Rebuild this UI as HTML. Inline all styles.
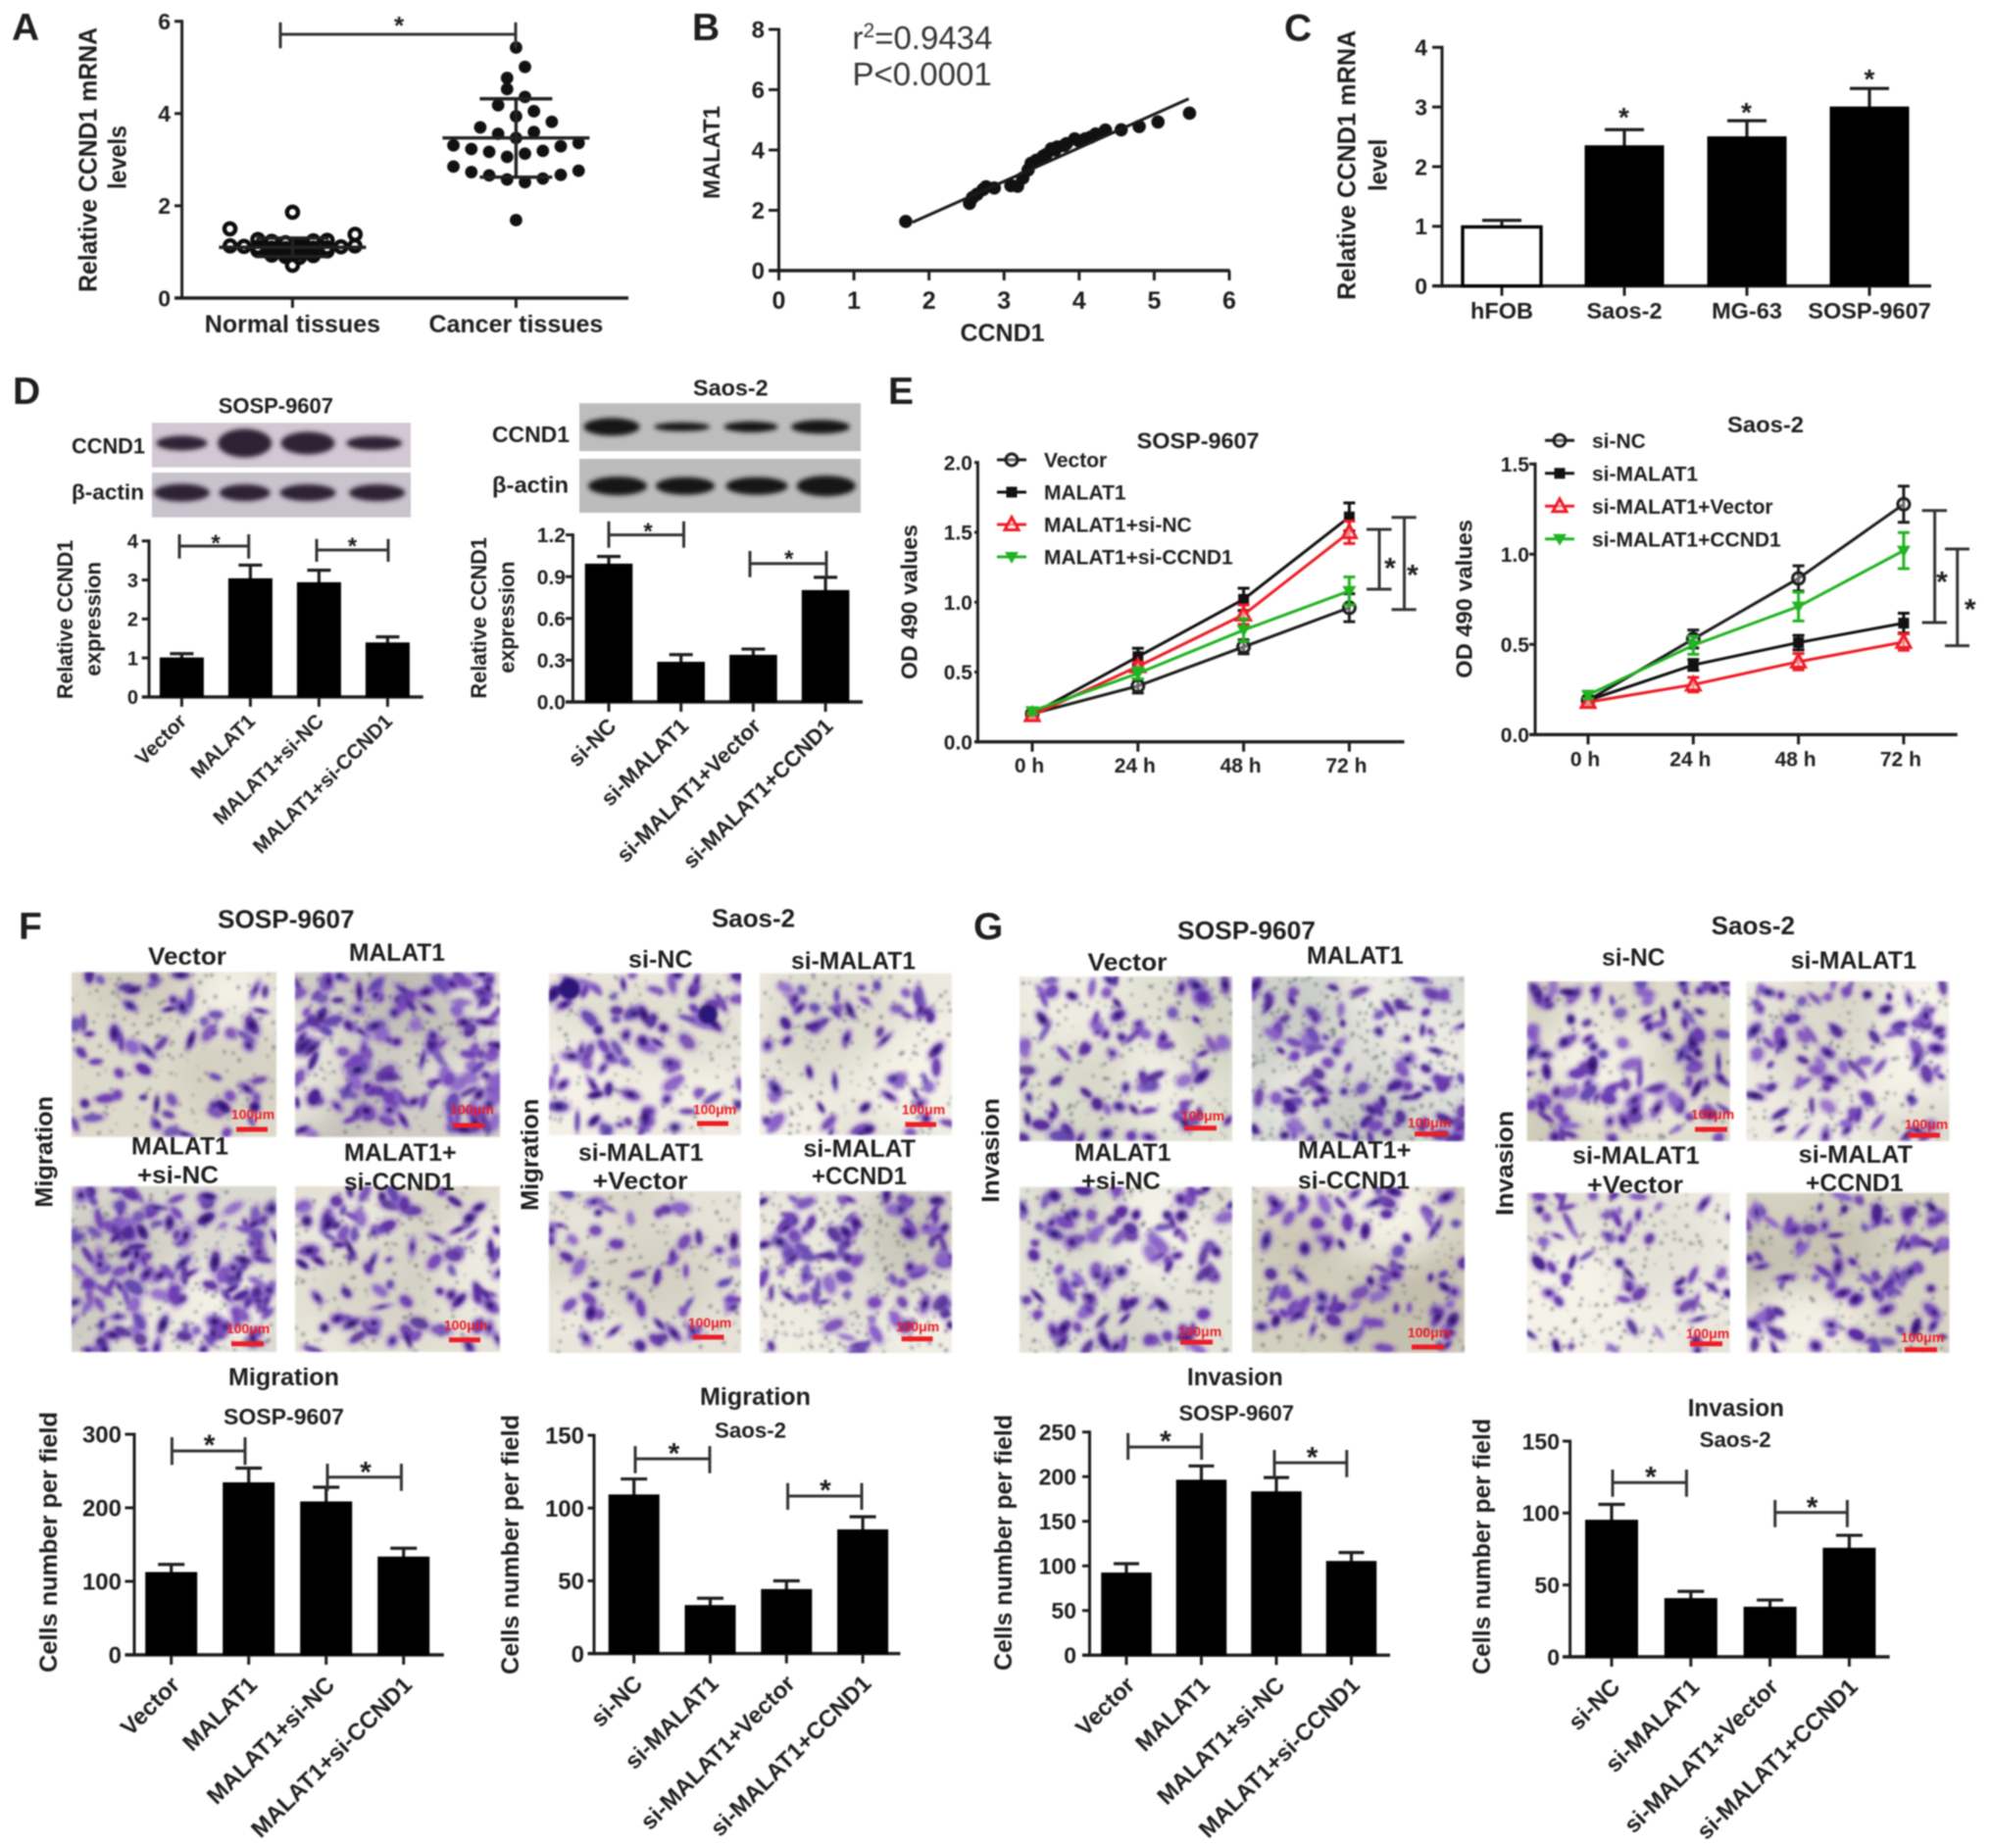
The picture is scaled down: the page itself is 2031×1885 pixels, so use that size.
<!DOCTYPE html>
<html lang="en">
<head>
<meta charset="utf-8">
<title>CCND1 and MALAT1 multi-panel figure</title>
<style>
html,body{margin:0;padding:0;background:#fff}
svg{display:block;filter:blur(.7px)}
text{font-family:"Liberation Sans",Arial,sans-serif;fill:#1e1e1e;font-weight:bold}
</style>
</head>
<body>
<svg id="figure" xmlns="http://www.w3.org/2000/svg" width="2031" height="1885" viewBox="0 0 2031 1885">
  <defs>
    <filter id="blotBlur" x="-30%" y="-80%" width="160%" height="260%"><feGaussianBlur stdDeviation="2.4"/></filter>
    <filter id="cellBlur" x="-5%" y="-5%" width="110%" height="110%"><feGaussianBlur stdDeviation="1.2"/></filter>
    <filter id="toneBlur" x="-20%" y="-20%" width="140%" height="140%"><feGaussianBlur stdDeviation="16"/></filter>
  </defs>
  <rect x="0" y="0" width="2031" height="1885" fill="#ffffff"/>
  <g id="panel-a"></g>
  <g id="panel-b">
    <text x="869.5" y="50" font-size="33" style="font-weight:normal;fill:#333">r<tspan dy="-12" font-size="21">2</tspan><tspan dy="12">=0.9434</tspan></text>
    <text x="869.5" y="87" font-size="33" style="font-weight:normal;fill:#333">P&lt;0.0001</text>
  </g>
  <g id="panel-c"></g>
  <g id="panel-d"></g>
  <g id="panel-e"></g>
  <g id="panel-f"></g>
  <g id="panel-g"></g>
</svg>
<script>
/* ---------- chart data ---------- */
const panelACategories = ['Normal tissues', 'Cancer tissues'];
const panelATicks = ['0', '2', '4', '6'];
const normalValues = [1.86, 1.16, 1.20, 1.24, 1.23, 1.25, 1.27, 1.38, 1.50, 1.07, 1.07, 1.08, 1.08, 1.09, 1.10, 1.11, 1.12, 1.13, 1.13, 0.98, 0.99, 1.0, 1.01, 1.02, 1.03, 0.88, 0.90, 0.92, 0.93, 0.71];
const cancerValues = [5.43, 5.01, 4.77, 4.36, 4.53, 3.94, 4.05, 4.18, 3.47, 3.60, 3.56, 3.82, 3.70, 3.13, 3.06, 3.19, 3.17, 3.29, 3.23, 3.36, 3.31, 2.51, 2.57, 2.59, 2.66, 2.67, 2.73, 2.76, 2.85, 1.69];
const normalRowEdges = [0, 0.8, 0.95, 1.05, 1.14, 1.62, 2.2];
const cancerRowEdges = [0, 2.48, 2.93, 3.38, 3.83, 4.28, 4.73, 5.18, 5.63];
const normalSummary = [1.1, 0.2];
const cancerSummary = [3.47, 0.85];

const panelBXTicks = ['0', '1', '2', '3', '4', '5', '6'];
const panelBYTicks = ['0', '2', '4', '6', '8'];
const ccnd1Values = [1.69, 2.54, 2.58, 2.64, 2.72, 2.76, 2.87, 3.09, 3.18, 3.25, 3.32, 3.36, 3.43, 3.52, 3.56, 3.63, 3.68, 3.71, 3.8, 3.83, 3.94, 4.0, 4.08, 4.15, 4.22, 4.35, 4.56, 4.80, 5.05, 5.47];
const malat1Values = [1.63, 2.23, 2.42, 2.53, 2.69, 2.78, 2.74, 2.82, 2.80, 3.07, 3.34, 3.56, 3.66, 3.79, 3.85, 4.04, 4.0, 4.10, 4.15, 4.21, 4.37, 4.3, 4.37, 4.42, 4.53, 4.66, 4.67, 4.78, 4.93, 5.22];
const fitX = [1.78, 5.46];
const fitY = [1.60, 5.70];

const panelCCategories = ['hFOB', 'Saos-2', 'MG-63', 'SOSP-9607'];
const panelCTicks = ['0', '1', '2', '3', '4'];
const panelCValues = [0.99, 2.35, 2.5, 3.0];
const panelCErrors = [0.11, 0.27, 0.27, 0.31];

const sospCategories = ['Vector', 'MALAT1', 'MALAT1+si-NC', 'MALAT1+si-CCND1'];
const saosCategories = ['si-NC', 'si-MALAT1', 'si-MALAT1+Vector', 'si-MALAT1+CCND1'];

const panelD1Ticks = ['0', '1', '2', '3', '4'];
const panelD1Values = [1.0, 3.03, 2.93, 1.385];
const panelD1Errors = [0.11, 0.35, 0.32, 0.155];
const panelD2Ticks = ['0.0', '0.3', '0.6', '0.9', '1.2'];
const panelD2Values = [0.99, 0.285, 0.335, 0.8];
const panelD2Errors = [0.055, 0.055, 0.045, 0.095];

const timeLabels = ['0 h', '24 h', '48 h', '72 h'];
const panelE1Ticks = ['0.0', '0.5', '1.0', '1.5', '2.0'];
const e1VectorMean = [0.2, 0.40, 0.68, 0.96];
const e1VectorSd = [0.02, 0.05, 0.05, 0.1];
const e1Malat1Mean = [0.2, 0.61, 1.02, 1.61];
const e1Malat1Sd = [0.02, 0.06, 0.08, 0.1];
const e1SiNcMean = [0.19, 0.54, 0.91, 1.50];
const e1SiNcSd = [0.02, 0.03, 0.07, 0.08];
const e1SiCcnd1Mean = [0.22, 0.49, 0.8, 1.08];
const e1SiCcnd1Sd = [0.02, 0.04, 0.08, 0.1];
const e1SeriesNames = ['Vector', 'MALAT1', 'MALAT1+si-NC', 'MALAT1+si-CCND1'];

const panelE2Ticks = ['0.0', '0.5', '1.0', '1.5'];
const e2SiNcMean = [0.19, 0.53, 0.866, 1.277];
const e2SiNcSd = [0.02, 0.05, 0.07, 0.1];
const e2SiMalat1Mean = [0.19, 0.386, 0.51, 0.618];
const e2SiMalat1Sd = [0.02, 0.03, 0.04, 0.055];
const e2VectorMean = [0.18, 0.277, 0.404, 0.513];
const e2VectorSd = [0.02, 0.04, 0.045, 0.045];
const e2Ccnd1Mean = [0.22, 0.495, 0.71, 1.02];
const e2Ccnd1Sd = [0.02, 0.05, 0.08, 0.1];
const e2SeriesNames = ['si-NC', 'si-MALAT1', 'si-MALAT1+Vector', 'si-MALAT1+CCND1'];

const panelF1Ticks = ['0', '100', '200', '300'];
const panelF1Values = [112, 234, 208, 133];
const panelF1Errors = [11, 20, 20, 12];
const panelF2Ticks = ['0', '50', '100', '150'];
const panelF2Values = [109, 33, 44, 85];
const panelF2Errors = [11, 5, 6, 9];
const panelG1Ticks = ['0', '50', '100', '150', '200', '250'];
const panelG1Values = [92, 196, 183, 105];
const panelG1Errors = [10.5, 16, 16, 10];
const panelG2Ticks = ['0', '50', '100', '150'];
const panelG2Values = [95, 40.5, 34.5, 75.5];
const panelG2Errors = [11, 5, 5, 9];

/* ---------- helpers ---------- */
const NS = 'http://www.w3.org/2000/svg';
const INK = '#1d1d1d';
function make(tag, parent, attrs) {
  const n = document.createElementNS(NS, tag);
  for (const k in attrs) n.setAttribute(k, attrs[k]);
  parent.appendChild(n);
  return n;
}
function linear(d0, d1, r0, r1) { return v => r0 + (v - d0) * (r1 - r0) / (d1 - d0); }
function line(g, x1, y1, x2, y2, w, c, name) {
  const l = make('line', g, {x1, y1, x2, y2, stroke: c || INK, 'stroke-width': w || 3});
  
  
  return l;
}
function word(g, str, x, y, size, anchor, name) {
  const t = make('text', g, {x, y, 'font-size': size, 'text-anchor': anchor || 'start'});
  t.textContent = str;
  
  
  return t;
}
function label(g, str, x0, x1, base, size, name) {
  const t = make('text', g, {x: x0, y: base, 'font-size': size, textLength: x1 - x0, lengthAdjust: 'spacingAndGlyphs'});
  t.textContent = str;
  
  
  return t;
}
function vlabel(g, str, cx, y0, y1, size, name) {
  const t = make('text', g, {x: 0, y: 0, 'font-size': size, textLength: y1 - y0, lengthAdjust: 'spacingAndGlyphs',
    transform: 'translate(' + (cx + size * 0.36) + ',' + y1 + ') rotate(-90)'});
  t.textContent = str;
  
  
  return t;
}
function star(g, x, y, size) {
  const t = make('text', g, {x, y: y + size * 0.58, 'font-size': size, 'text-anchor': 'middle'});
  t.textContent = '*';
  
  
  return t;
}
function bracket(g, xa, xb, y, top, bottom, sx, sy, size) {
  const p = make('path', g, {d: 'M' + xa + ' ' + top + 'V' + bottom + 'M' + xa + ' ' + y + 'H' + xb + 'M' + xb + ' ' + top + 'V' + bottom, fill: 'none', stroke: '#333', 'stroke-width': 3});
  
  
  star(g, sx, sy, size || 28);
}
function vBracket(g, x, capL, capR, top, bottom, sx, sy) {
  const p = make('path', g, {d: 'M' + capL + ' ' + top + 'H' + capR + 'M' + x + ' ' + top + 'V' + bottom + 'M' + capL + ' ' + bottom + 'H' + capR, fill: 'none', stroke: '#333', 'stroke-width': 3});
  
  
  star(g, sx, sy, 30);
}
function section(parent, name) {
  const g = make('g', parent, {});
  
  
  return g;
}
/* y axis + baseline + tick marks */
function axes(g, o, ticks, catXs) {
  const dMax = parseFloat(ticks[ticks.length - 1]);
  const y = linear(0, dMax, o.y0, o.yTop);
  line(g, o.x, o.yTop - 1.5, o.x, o.y0 + 1.5, 3, INK, 'y-axis-line');
  line(g, o.xStart, o.y0, o.xEnd, o.y0, 3.4, INK, 'x-axis-line');
  ticks.forEach(s => {
    const v = parseFloat(s);
    if (v !== 0) line(g, o.xStart, y(v), o.x, y(v), 3, INK, 'y-tick-mark');
    word(g, s, o.tickRight, y(v) + o.tickSize * 0.36, o.tickSize, 'end', 'y-tick-label');
  });
  catXs.forEach(cx => line(g, cx, o.y0, cx, o.y0 + 10, 3, INK, 'x-tick-mark'));
  return y;
}
function catPositions(o, n) { const a = []; for (let i = 0; i < n; i++) a.push(o.cat0 + i * o.catStep); return a; }
function barChart(parent, name, o, cats, vals, errs, ticks) {
  const g = section(parent, name);
  const xs = catPositions(o, cats.length);
  const y = axes(g, o, ticks, xs);
  vals.forEach((v, i) => {
    const top = y(v + errs[i]);
    const sd = make('path', g, {d: 'M' + (xs[i] - o.capW / 2) + ' ' + top + 'H' + (xs[i] + o.capW / 2) + 'M' + xs[i] + ' ' + top + 'V' + y(v), fill: 'none', stroke: INK, 'stroke-width': 3.2});
    
    
    const hollow = o.hollowFirst && i === 0;
    const bar = make('rect', g, {x: xs[i] - o.barW / 2, y: y(v), width: o.barW, height: o.y0 - y(v), fill: hollow ? '#fff' : '#000', stroke: '#000', 'stroke-width': hollow ? 3.4 : 1});
    
    
  });
  cats.forEach((c, i) => {
    if (o.rotSize) {
      const t = make('text', g, {x: 0, y: 0, 'font-size': o.rotSize, 'text-anchor': 'end',
        transform: 'translate(' + (xs[i] + o.rotDx) + ',' + (o.y0 + o.rotDy) + ') rotate(-45)'});
      t.textContent = c;
      
      
    } else {
      word(g, c, xs[i], o.catBase, o.catSize, 'middle', 'x-category-label');
    }
  });
  return g;
}
function marker(g, type, x, y, color) {
  let m;
  if (type === 'circle') m = make('circle', g, {cx: x, cy: y, r: 6, fill: '#fff', 'fill-opacity': 0.35, stroke: color, 'stroke-width': 3});
  if (type === 'square') m = make('rect', g, {x: x - 5.5, y: y - 5.5, width: 11, height: 11, fill: color});
  if (type === 'up') m = make('path', g, {d: 'M' + x + ' ' + (y - 7.5) + 'L' + (x + 7) + ' ' + (y + 5.5) + 'H' + (x - 7) + 'Z', fill: '#fff', 'fill-opacity': 0.5, stroke: color, 'stroke-width': 3});
  if (type === 'down') m = make('path', g, {d: 'M' + (x - 7) + ' ' + (y - 5) + 'H' + (x + 7) + 'L' + x + ' ' + (y + 7) + 'Z', fill: color});
  
  
}
const seriesStyle = [['circle', '#1c1c1c'], ['square', '#111'], ['up', '#ee1c25'], ['down', '#22b322']];
function lineChart(parent, name, o, labels, ticks, series, names) {
  const g = section(parent, name);
  const xs = catPositions(o, labels.length);
  const y = axes(g, o, ticks, xs);
  series.forEach((s, k) => {
    const sg = section(g, 'series-' + names[k].toLowerCase().replace(/[^a-z0-9]+/g, '-'));
    const color = seriesStyle[k][1];
    const pl = make('polyline', sg, {points: s[0].map((v, i) => xs[i] + ',' + y(v)).join(' '), fill: 'none', stroke: color, 'stroke-width': 3});
    
    
    s[0].forEach((v, i) => {
      const a = y(v + s[1][i]), b = y(v - s[1][i]);
      const eb = make('path', sg, {d: 'M' + (xs[i] - 6) + ' ' + a + 'H' + (xs[i] + 6) + 'M' + xs[i] + ' ' + a + 'V' + b + 'M' + (xs[i] - 6) + ' ' + b + 'H' + (xs[i] + 6), fill: 'none', stroke: color, 'stroke-width': 3});
      
      
      marker(sg, seriesStyle[k][0], xs[i], y(v), color);
    });
  });
  labels.forEach((t, i) => word(g, t, xs[i] - 3, o.catBase, o.catSize, 'middle', 'x-time-label'));
  const lg = section(g, 'legend');
  names.forEach((n, k) => {
    const ry = o.legY + k * o.legStep;
    const e = section(lg, 'legend-entry');
    line(e, o.legX - 15, ry, o.legX + 15, ry, 3, seriesStyle[k][1], 'legend-line');
    marker(e, seriesStyle[k][0], o.legX, ry, seriesStyle[k][1]);
    word(e, n, o.legX + 33, ry + 7.5, 21, 'start', 'legend-label');
  });
  return g;
}
/* Prism-style swarm: points in one row spread outward from the category centre, in array order */
function swarm(values, edges, step) {
  const rows = {};
  const out = [];
  values.forEach(v => {
    let b = 0;
    while (b < edges.length - 1 && v >= edges[b + 1]) b++;
    (rows[b] = rows[b] || []).push(v);
  });
  Object.values(rows).forEach(r => {
    r.forEach((v, i) => {
      let off;
      if (r.length % 2 === 1) off = i === 0 ? 0 : Math.ceil(i / 2) * (i % 2 ? 1 : -1);
      else off = (Math.floor(i / 2) + 0.5) * (i % 2 ? -1 : 1);
      out.push([v, off * step]);
    });
  });
  return out;
}

/* ---------- panel A ---------- */
(function () {
  const g = document.getElementById('panel-a');
  word(g, 'A', 12, 41, 39, 'start', 'panel-letter-a');
  const o = {x: 185.6, yTop: 21.7, y0: 304, xStart: 178, xEnd: 641, tickRight: 174, tickSize: 23};
  const xs = [298.4, 526.4];
  const y = axes(g, o, panelATicks, xs);
  const sn = section(g, 'normal-tissues-series');
  swarm(normalValues, normalRowEdges, 0.062).forEach(p => {
    const c = make('circle', sn, {cx: xs[0] + (Math.abs(p[1]) > 0.2 && p[0] > 1.3 ? (p[1] > 0 ? 0.28 : -0.28) : p[1]) * 228, cy: y(p[0]), r: 5.6, fill: 'none', stroke: '#0c0c0c', 'stroke-width': 4.4});
    
    
  });
  const sc = section(g, 'cancer-tissues-series');
  swarm(cancerValues, cancerRowEdges, 0.08).forEach(p => {
    const c = make('circle', sc, {cx: xs[1] + p[1] * 228, cy: y(p[0]), r: 6.4, fill: '#111'});
    
    
  });
  [[normalSummary, xs[0]], [cancerSummary, xs[1]]].forEach(s => {
    const m = s[0][0], d = s[0][1], cx = s[1];
    line(g, cx - 75, y(m), cx + 75, y(m), 3.4, '#222', 'mean-line');
    line(g, cx - 37, y(m + d), cx + 37, y(m + d), 3.4, '#222', 'sd-cap');
    line(g, cx - 37, y(m - d), cx + 37, y(m - d), 3.4, '#222', 'sd-cap');
    line(g, cx, y(m + d), cx, y(m - d), 3.4, '#222', 'sd-line');
  });
  panelACategories.forEach((c, i) => word(g, c, xs[i], 339, 25, 'middle', 'x-category-label'));
  vlabel(g, 'Relative CCND1 mRNA', 89, 28, 298, 26, 'y-axis-title');
  vlabel(g, 'levels', 119, 128, 193, 26, 'y-axis-title-line-2');
  bracket(g, 286, 526, 35, 22.7, 49.3, 407, 20, 26);
})();

/* ---------- panel B ---------- */
(function () {
  const g = document.getElementById('panel-b');
  word(g, 'B', 706, 41, 39, 'start', 'panel-letter-b');
  const o = {x: 794.5, yTop: 30, y0: 276, xStart: 784, xEnd: 1254.6, tickRight: 780, tickSize: 24};
  const x = linear(0, 6, 794.5, 1254);
  const xs = panelBXTicks.map(s => x(parseFloat(s)));
  const y = axes(g, o, panelBYTicks, xs);
  panelBXTicks.forEach(s => word(g, s, x(parseFloat(s)), 315, 25, 'middle', 'x-tick-label'));
  const pts = section(g, 'correlation-points');
  ccnd1Values.forEach((v, i) => {
    const c = make('circle', pts, {cx: x(v), cy: y(malat1Values[i]), r: 6.8, fill: '#111'});
    
    
  });
  line(g, x(fitX[0]), y(fitY[0]), x(fitX[1]), y(fitY[1]), 3, '#1a1a1a', 'regression-line');
  word(g, 'CCND1', 1022.5, 348, 25, 'middle', 'x-axis-title');
  vlabel(g, 'MALAT1', 725.5, 108, 203, 24, 'y-axis-title');
})();

/* ---------- panel C ---------- */
(function () {
  const g = document.getElementById('panel-c');
  word(g, 'C', 1310, 41.7, 39, 'start', 'panel-letter-c');
  barChart(g, 'expression-bars', {x: 1471, yTop: 48.3, y0: 291.7, xStart: 1461, xEnd: 1970, tickRight: 1456, tickSize: 23,
    cat0: 1532, catStep: 125, barW: 80, capW: 40, hollowFirst: true, catBase: 325, catSize: 23.5}, panelCCategories, panelCValues, panelCErrors, panelCTicks);
  star(g, 1656.5, 113, 28);
  star(g, 1781.5, 108, 28);
  star(g, 1907, 74, 28);
  vlabel(g, 'Relative CCND1 mRNA', 1373, 30.7, 306, 26, 'y-axis-title');
  vlabel(g, 'level', 1405, 141.7, 195, 26, 'y-axis-title-line-2');
})();

/* ---------- panel D ---------- */
function blot(g, x, y, w, h, fill, band, bands, name) {
  const b = section(g, name);
  const bg = make('rect', b, {x, y, width: w, height: h, fill});
  
  
  bands.forEach(a => {
    const e = make('ellipse', b, {cx: a[0], cy: a[1], rx: a[2] / 2, ry: a[3] / 2 + 1.5, fill: band, filter: 'url(#blotBlur)'});
    
    
  });
}
(function () {
  const g = document.getElementById('panel-d');
  word(g, 'D', 13, 412, 39, 'start', 'panel-letter-d');
  label(g, 'SOSP-9607', 222.7, 340, 421.6, 22, 'blot-title-sosp-9607');
  blot(g, 155, 431.3, 264, 45.4, '#d2c7d2', '#2e2036', [[185.4, 452, 52, 12], [249.7, 452, 55, 26], [314, 452, 55, 20], [381.7, 452, 57, 11]], 'ccnd1-blot-sosp-9607');
  blot(g, 155, 482, 264, 45.7, '#c9c3cd', '#2e2036', [[185.4, 502.6, 57, 15], [249.7, 502.6, 52, 14], [314, 502.6, 57, 14], [384.6, 502.6, 57, 14]], 'beta-actin-blot-sosp-9607');
  label(g, 'CCND1', 73, 148, 462.3, 22, 'ccnd1-blot-label');
  label(g, 'β-actin', 73, 147, 509.5, 22, 'beta-actin-blot-label');
  label(g, 'Saos-2', 707, 783.6, 403.7, 23, 'blot-title-saos-2');
  blot(g, 591, 411.3, 287, 48.9, '#bdbdbd', '#161616', [[624, 435.4, 57, 15], [695.7, 435.4, 57, 6], [766, 435.4, 55, 8], [837, 435.4, 60, 11]], 'ccnd1-blot-saos-2');
  blot(g, 591, 468, 287, 55, '#bcbcbc', '#161616', [[630, 495.7, 60, 16], [699, 495.7, 60, 15], [772, 495.7, 63, 15], [842.7, 495.7, 60, 18]], 'beta-actin-blot-saos-2');
  label(g, 'CCND1', 502, 581, 451, 23, 'ccnd1-blot-label');
  label(g, 'β-actin', 502, 580, 502.6, 23, 'beta-actin-blot-label');

  barChart(g, 'sosp-9607-expression-bars', {x: 152, yTop: 551.8, y0: 710.9, xStart: 144.7, xEnd: 431.7, tickRight: 141, tickSize: 20,
    cat0: 185.4, catStep: 70, barW: 44, capW: 24, rotSize: 20.8, rotDx: 6, rotDy: 26}, sospCategories, panelD1Values, panelD1Errors, panelD1Ticks);
  vlabel(g, 'Relative CCND1', 66, 550.8, 713, 22, 'y-axis-title');
  vlabel(g, 'expression', 94.7, 573, 689.6, 22, 'y-axis-title-line-2');
  bracket(g, 183, 253.7, 557, 545, 569.7, 220, 548, 24);
  bracket(g, 323, 396, 561, 549.8, 573, 359.4, 551, 24);

  barChart(g, 'saos-2-expression-bars', {x: 584.4, yTop: 545.6, y0: 716, xStart: 577, xEnd: 880, tickRight: 577, tickSize: 21,
    cat0: 621, catStep: 73.7, barW: 47.6, capW: 24, rotSize: 22.4, rotDx: 9, rotDy: 26}, saosCategories, panelD2Values, panelD2Errors, panelD2Ticks);
  vlabel(g, 'Relative CCND1', 488, 548, 712.6, 22, 'y-axis-title');
  vlabel(g, 'expression', 516.7, 572.5, 686.8, 22, 'y-axis-title-line-2');
  bracket(g, 621, 697.5, 545.6, 531.8, 558.7, 661, 536, 24);
  bracket(g, 765, 843, 574.9, 562, 588.7, 804.8, 563.9, 24);
})();

/* ---------- panel E ---------- */
(function () {
  const g = document.getElementById('panel-e');
  word(g, 'E', 906, 412, 39, 'start', 'panel-letter-e');
  lineChart(g, 'sosp-9607-growth-chart', {x: 997.4, yTop: 471.7, y0: 756.7, xStart: 994, xEnd: 1432.5, tickRight: 992, tickSize: 21,
    cat0: 1053, catStep: 107.8, catBase: 788, catSize: 21, legX: 1032, legY: 469, legStep: 33},
    timeLabels, panelE1Ticks,
    [[e1VectorMean, e1VectorSd], [e1Malat1Mean, e1Malat1Sd], [e1SiNcMean, e1SiNcSd], [e1SiCcnd1Mean, e1SiCcnd1Sd]], e1SeriesNames);
  label(g, 'SOSP-9607', 1159.7, 1284.6, 457.3, 23, 'chart-title-sosp-9607');
  vlabel(g, 'OD 490 values', 927.4, 535, 693, 23, 'y-axis-title');
  vBracket(g, 1407, 1394, 1419.5, 540, 601, 1418, 572);
  vBracket(g, 1432.5, 1419.5, 1444.7, 527.7, 621.7, 1441, 579);
  lineChart(g, 'saos-2-growth-chart', {x: 1566, yTop: 473.3, y0: 749.3, xStart: 1560, xEnd: 1996.7, tickRight: 1560, tickSize: 21,
    cat0: 1620, catStep: 107.3, catBase: 781.7, catSize: 21, legX: 1591, legY: 449.3, legStep: 33.5},
    timeLabels, panelE2Ticks,
    [[e2SiNcMean, e2SiNcSd], [e2SiMalat1Mean, e2SiMalat1Sd], [e2VectorMean, e2VectorSd], [e2Ccnd1Mean, e2Ccnd1Sd]], e2SeriesNames);
  label(g, 'Saos-2', 1762, 1840, 441, 23, 'chart-title-saos-2');
  vlabel(g, 'OD 490 values', 1493, 530, 691.7, 23, 'y-axis-title');
  vBracket(g, 1973.6, 1960.6, 1986, 520.8, 635, 1981, 586);
  vBracket(g, 1996.7, 1984, 2009, 560, 658.6, 2009.7, 614);
})();

/* ---------- stained-cell micrographs (decorative texture, seeded) ---------- */
function rng(seed) {
  let s = seed * 2654435761 >>> 0;
  return () => { s ^= s << 13; s >>>= 0; s ^= s >>> 17; s ^= s << 5; s >>>= 0; return s / 4294967296; };
}
const cellPalette = ['#6a3ab0', '#7444b8', '#5a2ca0', '#4a2390', '#8a62c8', '#6448b0'];
function micrograph(parent, name, x, y, w, h, bg, tone, cellCount, poreCount, sizeK, seed, bigs) {
  const r = rng(seed);
  for (let i = 0; i < 8; i++) r();
  const s = make('svg', parent, {x, y, width: w, height: h, viewBox: '0 0 ' + w + ' ' + h});
  
  
  const base = make('rect', s, {x: 0, y: 0, width: w, height: h, fill: bg});
  
  
  const shade = make('g', s, {filter: 'url(#toneBlur)'});
  for (let i = 0; i < 6; i++) {
    const e = make('ellipse', shade, {cx: r() * w, cy: r() * h, rx: 30 + r() * 40, ry: 30 + r() * 40, fill: i % 2 ? tone : '#f6f3ea', opacity: 0.7});
    
    
  }
  const f = make('g', s, {filter: 'url(#cellBlur)'});
  for (let i = 0; i < poreCount * 1.7; i++) {
    const p = make('circle', f, {cx: r() * w, cy: r() * h, r: 0.7 + r() * 1.2, fill: '#5e6172', opacity: 0.8});
    
    
  }
  for (let i = 0; i < cellCount * 1.45; i++) {
    const cx = r() * w, cy = r() * h;
    const a = (2.4 + r() * 3.6) * sizeK, b = (4 + r() * 6.5) * sizeK, rot = r() * 360;
    const halo = make('ellipse', f, {cx, cy, rx: a * 1.7, ry: b * 1.5, fill: '#8a66c4', opacity: 0.3, transform: 'rotate(' + rot + ' ' + cx + ' ' + cy + ')'});
    
    
    const c = make('ellipse', f, {cx, cy, rx: a, ry: b, fill: cellPalette[Math.floor(r() * cellPalette.length)], opacity: 0.75 + r() * 0.25, transform: 'rotate(' + rot + ' ' + cx + ' ' + cy + ')'});
    
    
    if (r() > 0.6) {
      const n = make('ellipse', f, {cx, cy, rx: a * 0.5, ry: b * 0.45, fill: '#2c1468', transform: 'rotate(' + rot + ' ' + cx + ' ' + cy + ')'});
      
      
    }
  }
  (bigs || []).forEach(bg2 => {
    const c = make('circle', f, {cx: bg2[0], cy: bg2[1], r: bg2[2], fill: '#2a1278'});
    
    
  });
}
function scaleBar(g, x0, x1, barY, textX, textBase) {
  const bar = make('rect', g, {x: x0, y: barY - 2.5, width: x1 - x0, height: 5, fill: '#ee1c25'});
  
  
  const t = make('text', g, {x: textX, y: textBase, 'font-size': 14, 'text-anchor': 'middle', style: 'fill:#ee1c25'});
  t.textContent = '100μm';
  
  
}

/* ---------- panel F ---------- */
(function () {
  const g = document.getElementById('panel-f');
  micrograph(g, 'micrograph-vector', 73, 991.7, 209, 168, '#dedacb', '#c9c5b5', 42, 110, 1, 11);
  micrograph(g, 'micrograph-malat1', 301, 991.7, 209, 168, '#cfccc4', '#b8b5ae', 95, 130, 1.1, 12);
  micrograph(g, 'micrograph-malat1-si-nc', 73, 1210, 209, 169, '#dad8d0', '#c8c6bc', 95, 170, 1.05, 13);
  micrograph(g, 'micrograph-malat1-si-ccnd1', 301, 1210, 209, 169, '#e2dfd2', '#cfcbbd', 58, 120, 1, 14);
  micrograph(g, 'micrograph-si-nc', 560, 992.7, 196, 165, '#eeeae0', '#dcd8cc', 55, 100, 1, 15, [[21, 16, 11], [162, 42, 10]]);
  micrograph(g, 'micrograph-si-malat1', 775, 992.7, 196, 165, '#ece9df', '#d9d6c9', 38, 110, 0.95, 16);
  micrograph(g, 'micrograph-si-malat1-vector', 560, 1215, 196, 165, '#e6e2d8', '#cfcbbc', 34, 100, 0.95, 17);
  micrograph(g, 'micrograph-si-malat-ccnd1', 775, 1215, 196, 165, '#e4e2d8', '#c6c5b6', 62, 190, 1, 18);
  word(g, 'F', 19, 958, 39, 'start', 'panel-letter-f');
  label(g, 'SOSP-9607', 222, 361.6, 946.7, 26, 'section-title-sosp-9607');
  label(g, 'Vector', 151, 231, 984, 25, 'vector-image-label');
  label(g, 'MALAT1', 356, 454, 980, 25, 'malat1-image-label');
  label(g, 'MALAT1', 134, 233, 1177.7, 25, 'malat1-si-nc-image-label-line-1');
  label(g, '+si-NC', 140, 223, 1207, 25, 'malat1-si-nc-image-label-line-2');
  label(g, 'MALAT1+', 351, 465.6, 1184, 25, 'malat1-si-ccnd1-image-label-line-1');
  label(g, 'si-CCND1', 351, 463.6, 1214, 25, 'malat1-si-ccnd1-image-label-line-2');
  label(g, 'Saos-2', 726, 811, 945.7, 26, 'section-title-saos-2');
  label(g, 'si-NC', 641, 706.6, 987, 25, 'si-nc-image-label');
  label(g, 'si-MALAT1', 807, 934, 988.7, 25, 'si-malat1-image-label');
  label(g, 'si-MALAT1', 590, 717.5, 1184, 25, 'si-malat1-vector-image-label-line-1');
  label(g, '+Vector', 604.6, 701.5, 1213, 25, 'si-malat1-vector-image-label-line-2');
  label(g, 'si-MALAT', 819.5, 934, 1180, 25, 'si-malat-ccnd1-image-label-line-1');
  label(g, '+CCND1', 828, 925, 1208, 25, 'si-malat-ccnd1-image-label-line-2');
  vlabel(g, 'Migration', 44.6, 1118, 1231.7, 25, 'migration-side-label');
  vlabel(g, 'Migration', 540, 1120.7, 1235, 25, 'migration-side-label');
  scaleBar(g, 241, 273, 1152, 258, 1141.7);
  scaleBar(g, 462, 494, 1148, 481.5, 1136.7);
  scaleBar(g, 236, 269, 1370.7, 253, 1360);
  scaleBar(g, 458, 490, 1366.7, 475, 1356.7);
  scaleBar(g, 711, 743, 1146, 729, 1136.7);
  scaleBar(g, 923.5, 955, 1147, 942, 1136.7);
  scaleBar(g, 706.6, 738.5, 1364, 724, 1354);
  scaleBar(g, 919.6, 951.5, 1365.7, 936, 1358);

  label(g, 'Migration', 233, 346, 1413, 25, 'chart-title-migration');
  label(g, 'SOSP-9607', 228, 351, 1453, 23, 'chart-subtitle-sosp-9607');
  barChart(g, 'sosp-9607-migration-bars', {x: 137, yTop: 1463, y0: 1688, xStart: 127.5, xEnd: 452.8, tickRight: 124, tickSize: 24,
    cat0: 174.7, catStep: 79, barW: 52, capW: 27, rotSize: 24, rotDx: 10, rotDy: 32}, sospCategories, panelF1Values, panelF1Errors, panelF1Ticks);
  vlabel(g, 'Cells number per field', 49, 1440, 1706, 25, 'y-axis-title');
  bracket(g, 175.4, 250, 1480, 1466, 1494.3, 213.6, 1466.7, 30);
  bracket(g, 334, 409.4, 1506.7, 1493, 1520.7, 373, 1494, 30);

  label(g, 'Migration', 714, 827, 1433, 25, 'chart-title-migration');
  label(g, 'Saos-2', 729, 802, 1466.7, 22, 'chart-subtitle-saos-2');
  barChart(g, 'saos-2-migration-bars', {x: 606, yTop: 1464, y0: 1686.7, xStart: 599.5, xEnd: 918.4, tickRight: 596, tickSize: 24,
    cat0: 646.7, catStep: 77.8, barW: 51, capW: 27, rotSize: 24, rotDx: 10, rotDy: 32}, saosCategories, panelF2Values, panelF2Errors, panelF2Ticks);
  vlabel(g, 'Cells number per field', 520, 1443, 1708, 25, 'y-axis-title');
  bracket(g, 648, 724, 1488, 1475, 1502.7, 687.5, 1475, 30);
  bracket(g, 803.6, 879, 1526, 1512.7, 1540, 842, 1512.7, 30);
})();

/* ---------- panel G ---------- */
(function () {
  const g = document.getElementById('panel-g');
  micrograph(g, 'micrograph-vector', 1040, 996, 217, 168, '#dfe0d2', '#cfcfbf', 55, 150, 1, 21);
  micrograph(g, 'micrograph-malat1', 1277, 996, 217, 168, '#d9dbd6', '#c5c7c1', 70, 230, 0.95, 22);
  micrograph(g, 'micrograph-malat1-si-nc', 1040, 1210.7, 217, 169, '#e3e3d8', '#cfcfc2', 65, 150, 1, 23);
  micrograph(g, 'micrograph-malat1-si-ccnd1', 1277, 1210.7, 217, 169, '#d4d0bf', '#bdb8a6', 55, 110, 1, 24);
  micrograph(g, 'micrograph-si-nc', 1557.7, 1001, 207, 163, '#dcd9c8', '#c7c4b2', 75, 80, 1, 25);
  micrograph(g, 'micrograph-si-malat1', 1781.5, 1001, 207, 163, '#eeebe2', '#d6d3c6', 58, 120, 0.95, 26);
  micrograph(g, 'micrograph-si-malat1-vector', 1557.7, 1216.7, 207, 163, '#efece4', '#e0ddd2', 38, 140, 0.9, 27);
  micrograph(g, 'micrograph-si-malat-ccnd1', 1781.5, 1216.7, 207, 163, '#d6d2c2', '#bdb9a8', 62, 110, 1, 28);
  word(g, 'G', 993, 958, 39, 'start', 'panel-letter-g');
  label(g, 'SOSP-9607', 1201, 1342, 958, 26, 'section-title-sosp-9607');
  label(g, 'Vector', 1109.5, 1190.5, 990, 25, 'vector-image-label');
  label(g, 'MALAT1', 1333, 1431.6, 983, 25, 'malat1-image-label');
  label(g, 'MALAT1', 1096, 1194.5, 1184, 25, 'malat1-si-nc-image-label-line-1');
  label(g, '+si-NC', 1103, 1184, 1213, 25, 'malat1-si-nc-image-label-line-2');
  label(g, 'MALAT1+', 1324, 1439.5, 1181.7, 25, 'malat1-si-ccnd1-image-label-line-1');
  label(g, 'si-CCND1', 1324, 1438, 1212.7, 25, 'malat1-si-ccnd1-image-label-line-2');
  label(g, 'Saos-2', 1745.6, 1831, 953, 26, 'section-title-saos-2');
  label(g, 'si-NC', 1634, 1698.5, 985, 25, 'si-nc-image-label');
  label(g, 'si-MALAT1', 1826.7, 1955, 988, 25, 'si-malat1-image-label');
  label(g, 'si-MALAT1', 1604, 1733.7, 1187, 25, 'si-malat1-vector-image-label-line-1');
  label(g, '+Vector', 1619, 1717, 1217, 25, 'si-malat1-vector-image-label-line-2');
  label(g, 'si-MALAT', 1834.6, 1951, 1186, 25, 'si-malat-ccnd1-image-label-line-1');
  label(g, '+CCND1', 1842, 1941.5, 1215, 25, 'si-malat-ccnd1-image-label-line-2');
  vlabel(g, 'Invasion', 1010, 1120, 1226.7, 25, 'invasion-side-label');
  vlabel(g, 'Invasion', 1534.5, 1133, 1240, 25, 'invasion-side-label');
  scaleBar(g, 1208, 1241, 1150.7, 1227, 1143);
  scaleBar(g, 1443, 1477, 1156.7, 1458, 1150);
  scaleBar(g, 1204, 1237, 1369, 1224, 1363);
  scaleBar(g, 1440, 1473, 1374, 1458, 1364);
  scaleBar(g, 1729, 1762, 1152, 1747, 1141.7);
  scaleBar(g, 1946, 1979, 1158, 1965, 1151.7);
  scaleBar(g, 1724, 1757, 1370.7, 1742, 1365);
  scaleBar(g, 1943, 1976, 1376.7, 1961, 1369);

  label(g, 'Invasion', 1211, 1308.7, 1413, 25, 'chart-title-invasion');
  label(g, 'SOSP-9607', 1202.5, 1320, 1449, 22, 'chart-subtitle-sosp-9607');
  barChart(g, 'sosp-9607-invasion-bars', {x: 1111.5, yTop: 1460.7, y0: 1688.3, xStart: 1104, xEnd: 1418, tickRight: 1098, tickSize: 23,
    cat0: 1149, catStep: 76.5, barW: 50.5, capW: 26, rotSize: 24, rotDx: 10, rotDy: 32}, sospCategories, panelG1Values, panelG1Errors, panelG1Ticks);
  vlabel(g, 'Cells number per field', 1023, 1443, 1704, 25, 'y-axis-title');
  bracket(g, 1150.7, 1225.7, 1476, 1461.7, 1489, 1189, 1462.7, 30);
  bracket(g, 1300, 1373.8, 1492, 1479, 1506.7, 1338.6, 1479, 30);

  label(g, 'Invasion', 1721.7, 1820, 1444.3, 25, 'chart-title-invasion');
  label(g, 'Saos-2', 1733.7, 1806.7, 1476, 22, 'chart-subtitle-saos-2');
  barChart(g, 'saos-2-invasion-bars', {x: 1601.6, yTop: 1470, y0: 1690, xStart: 1594, xEnd: 1927.6, tickRight: 1591, tickSize: 23,
    cat0: 1644, catStep: 80.8, barW: 53, capW: 27, rotSize: 24, rotDx: 10, rotDy: 32}, saosCategories, panelG2Values, panelG2Errors, panelG2Ticks);
  vlabel(g, 'Cells number per field', 1511, 1447, 1708, 25, 'y-axis-title');
  bracket(g, 1645, 1720.4, 1512.3, 1499, 1526.7, 1684, 1499, 30);
  bracket(g, 1810.7, 1884.4, 1542.7, 1530, 1557.7, 1848.6, 1530, 30);
})();
</script>
</body>
</html>
